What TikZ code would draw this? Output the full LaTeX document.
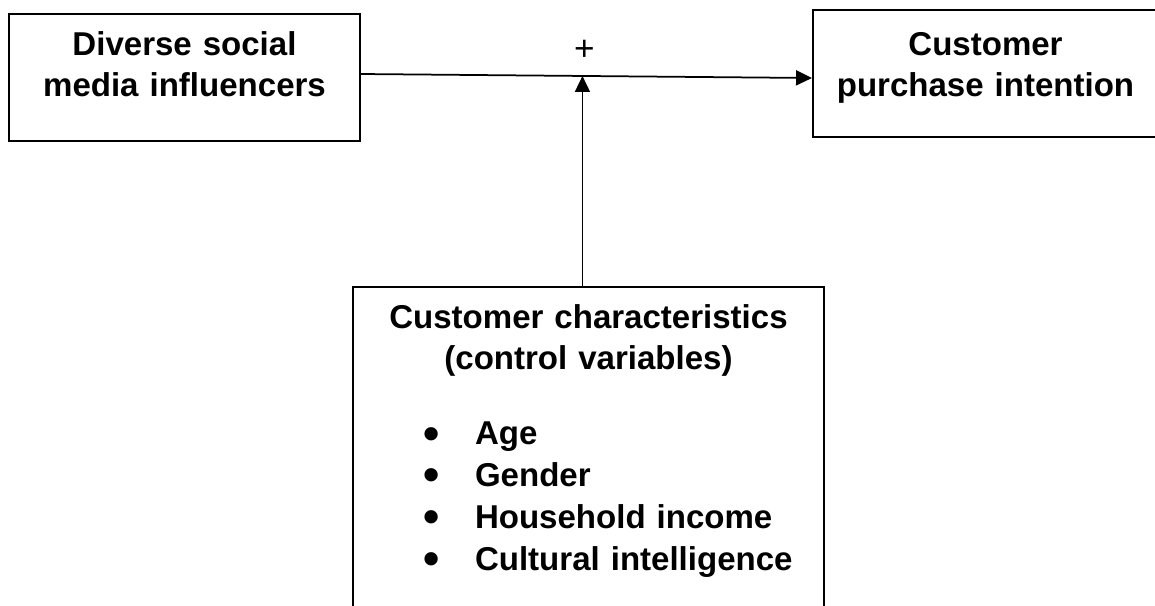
\documentclass[tikz,border=0pt]{standalone}
\usepackage{fontspec}
\usepackage{graphicx}
\setmainfont{Liberation Sans}
\usetikzlibrary{arrows.meta}
\tikzset{font=\fontsize{18.8}{23.8}\selectfont\bfseries}
\tikzset{box/.style={draw, line width=0.04cm, inner sep=0pt, align=center}}
\tikzset{conn/.style={line width=0.035cm, -{Triangle[length=0.32cm,width=0.3cm]}}}
\newcommand{\listitem}[1]{\makebox[\linewidth][l]{\hspace*{1.4cm}%
  \makebox[1.04cm][l]{\raisebox{-0.09cm}{\scalebox{1.4}{\textbullet}}}#1}}

\begin{document}
\begin{tikzpicture}[x=0.02cm, y=-0.02cm]
  \useasboundingbox (0,0) rectangle (1155,605);
  \clip (0,0) rectangle (1155,605);

  \node[box, text width=7.02cm, text height=0.82cm, text depth=1.72cm]
    (dsmi) at (184.5,77.5) {Diverse social\\media influencers};
  \node[box, text width=6.9cm, text height=0.9cm, text depth=1.64cm]
    (cpi) at (985.5,73.5) {Customer\\purchase intention};
  \node[box, text width=9.42cm, text height=0.82cm, text depth=5.94cm]
    (ctrl) at (588.5,456) {Customer characteristics\\(control variables)\\[0.66cm]
    \listitem{Age}\\\listitem{Gender}\\\listitem{Household income}\\
    \listitem{Cultural intelligence}};

  \draw[conn] ([yshift=0.07cm]dsmi.east) -- coordinate[pos=0.491] (mid)
    ([yshift=-0.09cm]cpi.west);
  \draw[conn] (ctrl.north -| mid) -- (mid);
  \node[font=\fontsize{20}{24}\selectfont] (sign) at ([xshift=0.04cm,yshift=0.52cm]mid) {+};
\end{tikzpicture}
\end{document}
